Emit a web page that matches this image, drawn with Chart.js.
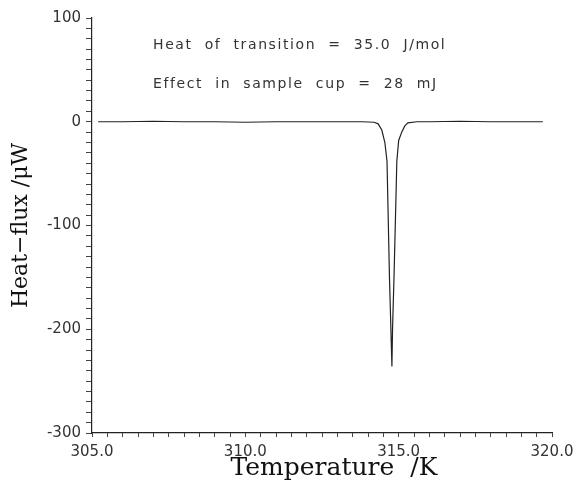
<!DOCTYPE html>
<html>
<head>
<meta charset="utf-8">
<script src="https://cdn.jsdelivr.net/npm/chart.js@4"></script>
<style>
  html, body { margin: 0; padding: 0; background: #fff; }
  #wrap { width: 576px; height: 489px; }
</style>
</head>
<body>
<div id="wrap"><canvas id="dscChart"></canvas></div>
<script>
// DSC trace
const temperature = [305.2, 306.0, 307.0, 308.0, 309.0, 310.0, 311.0, 312.0, 313.0, 313.8, 314.2, 314.33, 314.45, 314.55, 314.62, 314.70, 314.78, 314.80, 314.85, 314.94, 315.0, 315.1, 315.2, 315.3, 315.6, 316.0, 317.0, 318.0, 319.0, 319.7];
const heatFlux = [0, 0, 0.5, 0, 0, -0.5, 0, 0, 0, 0, -0.5, -2, -8, -20, -38, -150, -236, -200, -148, -38, -18, -10, -4, -1, 0, 0, 0.5, 0, 0, 0];
const xTickLabels = [305.0, 310.0, 315.0, 320.0];
const yTickLabels = [100, 0, -100, -200, -300];
const notes = ['Heat  of  transition  =  35.0  J/mol', 'Effect  in  sample  cup  =  28  mJ'];

const points = temperature.map((t, i) => ({ x: t, y: heatFlux[i] }));

const notesPlugin = {
    id: 'notes',
    afterDraw(chart) {
        const ctx = chart.ctx;
        const area = chart.chartArea;
        ctx.save();
        ctx.fillStyle = '#333';
        ctx.font = '14px "DejaVu Sans"';
        ctx.letterSpacing = '1.6px';
        ctx.textBaseline = 'middle';
        notes.forEach((txt, i) => {
            ctx.fillText(txt, area.left + 61, area.top + 27 + i * 39);
        });
        ctx.letterSpacing = '0px';
        ctx.restore();
    }
};

new Chart(document.getElementById('dscChart'), {
    type: 'line',
    data: {
        datasets: [{
            data: points,
            borderColor: '#222',
            borderWidth: 1.2,
            pointRadius: 0,
            tension: 0,
            fill: false
        }]
    },
    options: {
        responsive: true,
        maintainAspectRatio: false,
        animation: false,
        layout: { padding: { top: 18, right: 24, left: 0, bottom: 0 } },
        plugins: {
            legend: { display: false },
            tooltip: { enabled: false }
        },
        scales: {
            x: {
                type: 'linear',
                min: 305,
                max: 320,
                border: { color: '#222', width: 1.2 },
                grid: { drawOnChartArea: false, tickLength: 4, color: '#444' },
                ticks: {
                    stepSize: 0.5,
                    autoSkip: false,
                    maxRotation: 0,
                    padding: 6,
                    color: '#333',
                    font: { family: 'DejaVu Sans', size: 15 },
                    callback: v => xTickLabels.includes(v) ? v.toFixed(1) : ''
                },
                title: {
                    display: true,
                    text: '   Temperature  /K',
                    color: '#111',
                    font: { family: 'DejaVu Serif', size: 25 },
                    padding: { top: 0, bottom: 6 }
                },
                afterFit: s => {
                    s.height = 56;
                    s.paddingLeft = 0;
                    s.paddingRight = 0;
                }
            },
            y: {
                min: -300,
                max: 100,
                border: { color: '#222', width: 1.2 },
                grid: { drawOnChartArea: false, tickLength: 6, color: '#444' },
                ticks: {
                    stepSize: 10,
                    autoSkip: false,
                    padding: 5,
                    color: '#333',
                    font: { family: 'DejaVu Sans', size: 15 },
                    callback: v => yTickLabels.includes(v) ? String(v) : ''
                },
                title: {
                    display: true,
                    text: 'Heat\u2212flux /\u03bcW',
                    color: '#111',
                    font: { family: 'DejaVu Serif', size: 22 },
                    padding: { top: 8, bottom: 0 }
                },
                afterFit: s => {
                    s.width = 92;
                    s.paddingTop = 0;
                    s.paddingBottom = 0;
                }
            }
        }
    },
    plugins: [notesPlugin]
});
</script>
</body>
</html>
